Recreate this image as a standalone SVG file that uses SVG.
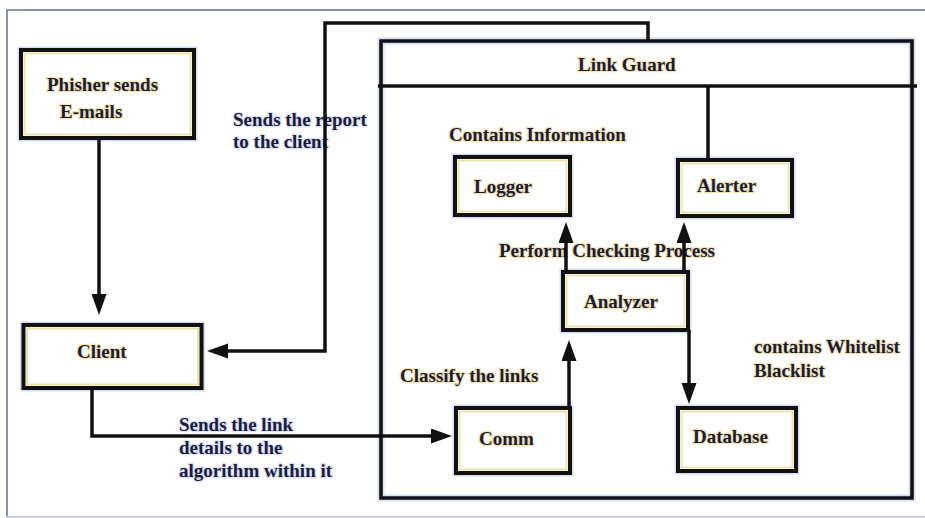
<svg xmlns="http://www.w3.org/2000/svg" width="925" height="518" viewBox="0 0 925 518" font-family="'Liberation Serif', 'Times New Roman', 'DejaVu Serif', serif">
  <style>
    .frame { fill: none; stroke: #8c92aa; stroke-width: 2; }
    .box { fill: #ffffff; stroke: #111111; stroke-width: 4; }
    .inner { fill: none; stroke: #efe3ac; stroke-width: 2; }
    .guard { fill: none; stroke: #111111; stroke-width: 3.5; }
    .line { fill: none; stroke: #111111; stroke-width: 3.5; }
    .halo { fill: none; stroke: #d6dcf6; stroke-width: 7; }
    text { font-family: 'Liberation Serif', 'Times New Roman', 'DejaVu Serif', serif; font-weight: 700; font-size: 19px; fill: #1b1c3c; paint-order: stroke; stroke-linejoin: round; }
    .in { stroke: #f1e4b0; stroke-width: 2.5; }
    .out { stroke: #dde2f8; stroke-width: 2.5; }
  </style>
  <defs>
    <marker id="arrow" markerUnits="userSpaceOnUse" markerWidth="22" markerHeight="16" refX="11" refY="7.5" orient="auto">
      <path d="M0,0 L21,7.5 L0,15 Z" fill="#111111"/>
    </marker>
  </defs>

  <rect width="925" height="518" fill="#ffffff"/>
  <!-- page frame -->
  <path class="frame" d="M925,10 H7 V517"/>
  <path d="M7,517 H925" fill="none" stroke="#c9cde2" stroke-width="2"/>

  <!-- Link Guard container -->
  <g id="link-guard">
    <rect class="halo" x="381" y="41" width="531" height="457"/>
    <rect class="guard" x="381" y="41" width="531" height="457" fill="#ffffff"/>
    <path class="line" d="M378,86 H917"/>
    <text class="in" x="578" y="71">Link Guard</text>
  </g>

  <g id="phisher">
    <rect class="halo" x="21" y="50" width="173" height="88"/>
    <rect class="box" x="21" y="50" width="173" height="88"/>
    <rect class="inner" x="24.5" y="53.5" width="166" height="81"/>
    <text class="in" x="47" y="91">Phisher sends</text>
    <text class="in" x="60" y="118">E-mails</text>
  </g>

  <g id="client">
    <rect class="halo" x="23.5" y="325" width="178" height="63"/>
    <rect class="box" x="23.5" y="325" width="178" height="63"/>
    <rect class="inner" x="27" y="328.5" width="171" height="56"/>
    <text class="in" x="77" y="358">Client</text>
  </g>

  <g id="logger">
    <rect class="halo" x="455" y="157" width="115" height="58"/>
    <rect class="box" x="455" y="157" width="115" height="58"/>
    <rect class="inner" x="458.5" y="160.5" width="108" height="51"/>
    <text class="in" x="474" y="193">Logger</text>
  </g>

  <g id="alerter">
    <rect class="halo" x="678" y="160" width="114" height="56"/>
    <rect class="box" x="678" y="160" width="114" height="56"/>
    <rect class="inner" x="681.5" y="163.5" width="107" height="49"/>
    <text class="in" x="697" y="192">Alerter</text>
  </g>

  <g id="analyzer">
    <rect class="halo" x="563" y="272" width="125" height="58"/>
    <rect class="box" x="563" y="272" width="125" height="58"/>
    <rect class="inner" x="566.5" y="275.5" width="118" height="51"/>
    <text class="in" x="584" y="308">Analyzer</text>
  </g>

  <g id="comm">
    <rect class="halo" x="456" y="408" width="114" height="65"/>
    <rect class="box" x="456" y="408" width="114" height="65"/>
    <rect class="inner" x="459.5" y="411.5" width="107" height="58"/>
    <text class="in" x="479" y="445">Comm</text>
  </g>

  <g id="database">
    <rect class="halo" x="678" y="408" width="118" height="63"/>
    <rect class="box" x="678" y="408" width="118" height="63"/>
    <rect class="inner" x="681.5" y="411.5" width="111" height="56"/>
    <text class="in" x="693" y="443">Database</text>
  </g>

  <!-- labels sit under the connector lines -->
  <g id="labels">
    <text class="out" x="233" y="126">Sends the report</text>
    <text class="out" x="233" y="148">to the client</text>
    <text class="out" x="179" y="431">Sends the link</text>
    <text class="out" x="179" y="454">details to the</text>
    <text class="out" x="179" y="477">algorithm within it</text>
    <text class="in" x="449" y="141">Contains Information</text>
    <text class="in" x="499" y="257">Perform Checking Process</text>
    <text class="in" x="400" y="382">Classify the links</text>
    <text class="in" x="754" y="353">contains Whitelist</text>
    <text class="in" x="754" y="377">Blacklist</text>
  </g>

  <!-- connectors -->
  <g id="connectors">
    <path class="line" d="M99,138 V305" marker-end="url(#arrow)"/>
    <path class="line" d="M648,41 V23 H325 V351 H217" marker-end="url(#arrow)"/>
    <path class="line" d="M92,388 V436 H442" marker-end="url(#arrow)"/>
    <path class="line" d="M569,408 V350" marker-end="url(#arrow)"/>
    <path class="line" d="M566,272 V232" marker-end="url(#arrow)"/>
    <path class="line" d="M684,272 V232" marker-end="url(#arrow)"/>
    <path class="line" d="M689,330 V394" marker-end="url(#arrow)"/>
    <path class="line" d="M708,86 V160"/>
  </g>
</svg>
